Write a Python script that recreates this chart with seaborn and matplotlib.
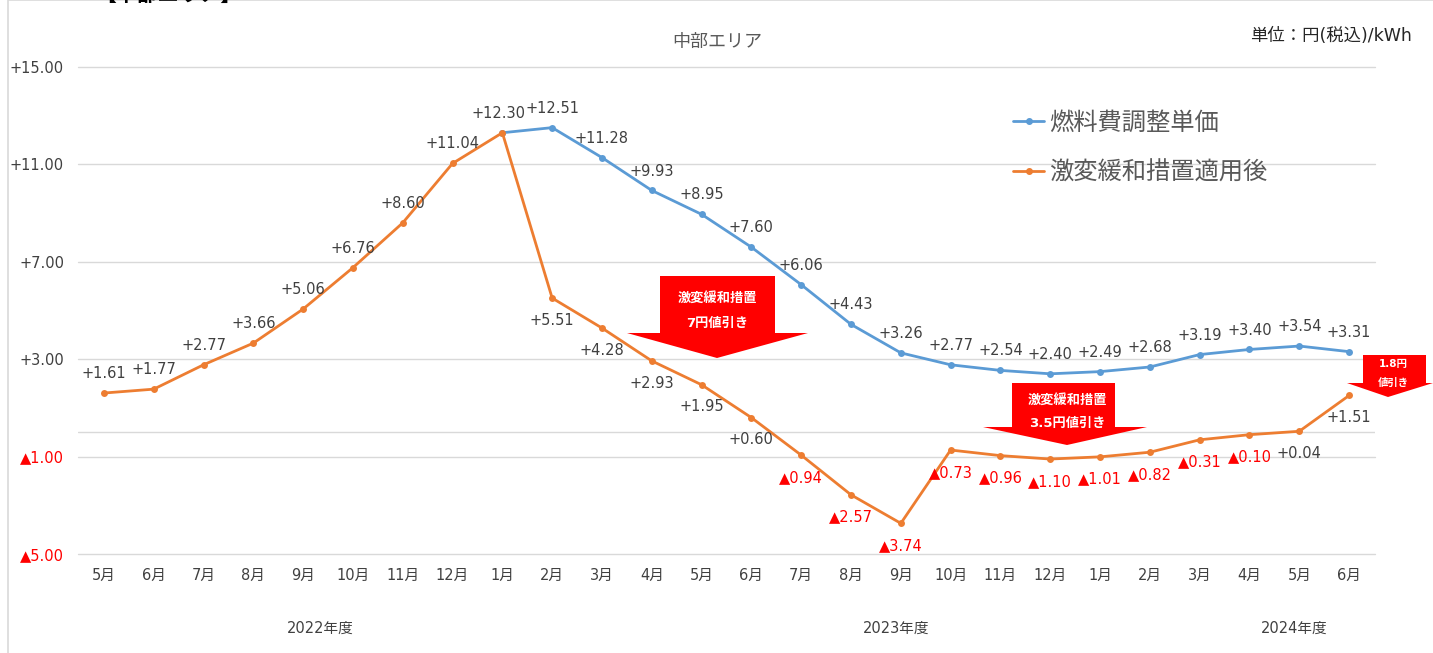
import numpy as np
import pandas as pd
import seaborn as sns
import matplotlib.pyplot as plt
import matplotlib.transforms as mtrans
from matplotlib.patches import Polygon, Rectangle
from matplotlib.lines import Line2D

# データ
months = ["5月", "6月", "7月", "8月", "9月", "10月", "11月", "12月", "1月", "2月", "3月", "4月", "5月",
          "6月", "7月", "8月", "9月", "10月", "11月", "12月", "1月", "2月", "3月", "4月", "5月", "6月"]
fuel_adj = [np.nan] * 8 + [12.30, 12.51, 11.28, 9.93, 8.95, 7.60, 6.06, 4.43, 3.26, 2.77, 2.54,
                           2.40, 2.49, 2.68, 3.19, 3.40, 3.54, 3.31]
after_relief = [1.61, 1.77, 2.77, 3.66, 5.06, 6.76, 8.60, 11.04, 12.30, 5.51, 4.28, 2.93, 1.95,
                0.60, -0.94, -2.57, -3.74, -0.73, -0.96, -1.10, -1.01, -0.82, -0.31, -0.10, 0.04, 1.51]
series_names = ["燃料費調整単価", "激変緩和措置適用後"]
year_labels = ["2022年度", "2023年度", "2024年度"]
year_pos = [4.35, 15.9, 23.9]
y_ticks = [-5, -1, 3, 7, 11, 15]

BLUE = "#5B9BD5"
ORANGE = "#ED7D31"
RED = "#FF0000"
GRAY = "#404040"

W, H = 1433, 653


def px(x, y):
    # ピクセル座標 -> figure座標
    return (x / W, 1 - y / H)


def fmt(v):
    if v < 0:
        return "▲%.2f" % abs(v)
    return "+%.2f" % v


sns.set_theme(style="white")
plt.rcParams["font.family"] = ["DejaVu Sans", "Noto Sans CJK JP"]

idx = list(range(len(months)))
df = pd.concat([
    pd.DataFrame({"idx": idx, "value": fuel_adj, "series": series_names[0]}),
    pd.DataFrame({"idx": idx, "value": after_relief, "series": series_names[1]}),
]).dropna()

fig = plt.figure(figsize=(W / 100, H / 100), dpi=100)
ax = fig.add_axes([78 / W, 1 - 554 / H, (1375 - 78) / W, (554 - 67) / H])

# グリッド
for t in y_ticks:
    ax.axhline(t, color="#D9D9D9", lw=1, zorder=0, clip_on=False)
ax.axhline(0, color="#D9D9D9", lw=1, zorder=0)

sns.lineplot(data=df, x="idx", y="value", hue="series", palette=[BLUE, ORANGE],
             marker="o", markersize=5, markeredgewidth=0, linewidth=2, ax=ax, legend=False)

ax.set_xlim(-0.52, 25.52)
ax.set_ylim(-5, 15)
ax.set_xticks(idx)
ax.set_xticklabels(months, fontsize=10.5, color=GRAY)
ax.set_yticks(y_ticks)
ax.set_yticklabels([fmt(t) for t in y_ticks], fontsize=10.5)
for lab, t in zip(ax.get_yticklabels(), y_ticks):
    lab.set_color(RED if t < 0 else GRAY)
ax.tick_params(axis="y", length=0, pad=10)
ax.tick_params(axis="x", length=0, pad=10)
ax.set_xlabel("")
ax.set_ylabel("")
for s in ax.spines.values():
    s.set_visible(False)

# データラベル
for i, v in enumerate(fuel_adj):
    if np.isnan(v) or i == 8:
        continue
    ax.annotate(fmt(v), (i, v), xytext=(0, 14), textcoords="offset points",
                ha="center", va="center", fontsize=10.5, color=GRAY)
for i, v in enumerate(after_relief):
    dy = 14 if i <= 8 else -16
    dx = -3 if i == 8 else 0
    ax.annotate(fmt(v), (i, v), xytext=(dx, dy), textcoords="offset points",
                ha="center", va="center", fontsize=10.5, color=RED if v < 0 else GRAY)

# 年度ラベル
blend = mtrans.blended_transform_factory(ax.transData, fig.transFigure)
for lab, xp in zip(year_labels, year_pos):
    ax.text(xp, px(0, 628)[1], lab, transform=blend,
            ha="center", va="center", fontsize=10.5, color=GRAY)

# 矢印
arrows = [
    ([(660, 276), (775, 276), (775, 333), (808, 333), (717, 358), (627, 333), (660, 333)],
     717, [(298, "激変緩和措置"), (323, "7円値引き")], 9.5),
    ([(1012, 383), (1115, 383), (1115, 427), (1147, 427), (1067, 445), (983, 427), (1012, 427)],
     1067, [(400, "激変緩和措置"), (423, "3.5円値引き")], 9.5),
    ([(1363, 355), (1426, 355), (1426, 383), (1433, 383), (1388, 397), (1347, 383), (1363, 383)],
     1393, [(364, "1.8円"), (383, "値引き")], 7.5),
]
for pts, cx, lines, fs in arrows:
    fig.patches.append(Polygon([px(x, y) for x, y in pts], closed=True, transform=fig.transFigure,
                               facecolor=RED, edgecolor="none", zorder=5))
    for yy, txt in lines:
        fig.text(*px(cx, yy), txt, ha="center", va="center", fontsize=fs, color="white",
                 fontweight="bold", zorder=6)

# タイトル・単位
fig.text(*px(717, 42), "中部エリア", ha="center", va="center", fontsize=13, color="#595959")
fig.text(*px(1412, 36), "単位：円(税込)/kWh", ha="right", va="center", fontsize=12.5, color="#262626")
fig.text(*px(95, 5), "【中部エリア】", ha="left", va="bottom", fontsize=15, fontweight="bold",
         color="black")

# 枠
fig.patches.append(Rectangle(px(8, 700), 1.2, 700 / H, transform=fig.transFigure,
                             facecolor="none", edgecolor="#D9D9D9", lw=1.2))

# 凡例
handles = [Line2D([], [], color=c, lw=2, marker="o", markersize=4) for c in (BLUE, ORANGE)]
fig.legend(handles, series_names, loc="upper left", bbox_to_anchor=px(1003, 101), frameon=False,
           fontsize=17.5, labelcolor="#595959", handlelength=1.3, handletextpad=0.2,
           labelspacing=1.05, borderaxespad=0)

fig.savefig("out.png", dpi=100)
